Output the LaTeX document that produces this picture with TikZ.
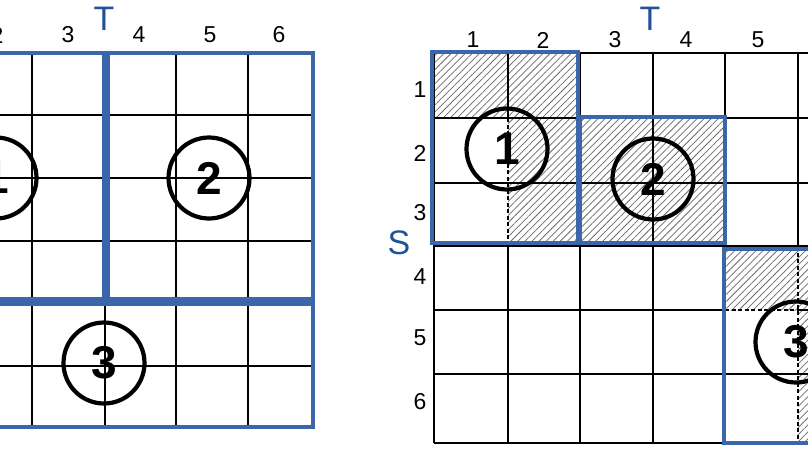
\documentclass[tikz,border=0pt]{standalone}
\usepackage{fontspec}
\setmainfont{Liberation Sans}
\usetikzlibrary{patterns.meta}
\definecolor{blk}{RGB}{60,102,170}
\definecolor{lbl}{RGB}{32,82,152}
\definecolor{hatchc}{RGB}{105,105,105}
\begin{document}
\begin{tikzpicture}[x=1pt,y=-1pt,
  gridline/.style={black,line width=1.9pt},
  dashline/.style={black,line width=1.3pt,dash pattern=on 4pt off 2.5pt},
  blockline/.style={draw=blk,line width=4.5pt},
  hatched/.style={pattern={Lines[angle=45,distance=5pt,line width=0.75pt]},pattern color=hatchc},
  num/.style={font=\fontsize{23}{25}\selectfont},
  axis/.style={text=lbl,font=\fontsize{34}{36}\selectfont},
  circ/.style={circle,draw,line width=4.2pt,minimum size=81pt,inner sep=0pt,font=\fontsize{46}{48}\selectfont\bfseries}]
\useasboundingbox (0,0) rectangle (808,455);
\clip (0,0) rectangle (808,455);

% ---------- left grid ----------
\foreach \x in {-40,32,105,176,248} \draw[gridline] (\x,53) -- (\x,427);
\foreach \y in {115,178,241,366} \draw[gridline] (-120,\y) -- (313,\y);
\draw[blockline] (-120,53) rectangle (104,299.5);
\draw[blockline] (107.5,53) rectangle (313,299.5);
\draw[blockline] (-120,304) rectangle (313,427);

\foreach \x/\t in {-3/2,68/3,139/4,210/5,279/6} \node[num] (lc\t) at (\x,35) {\t};
\node[axis] (lT) at (104,19) {T};
\node[circ] (l1) at (-4,178) {1};
\node[circ] (l2) at (209,178) {2};
\node[circ] (l3) at (104,363) {3};

% ---------- right grid ----------
\path[hatched] (434,53) rectangle (580,118);
\path[hatched] (508,118) rectangle (580,246);
\path[hatched] (580,118) rectangle (725,246);
\path[hatched] (725,246) rectangle (820,310);
\path[hatched] (798,310) rectangle (820,443);

\foreach \x in {434,580,653,725} \draw[gridline] (\x,53) -- (\x,443);
\draw[gridline] (508,53) -- (508,118);
\draw[dashline] (508,118) -- (508,246);
\draw[gridline] (508,246) -- (508,443);
\draw[gridline] (798,53) -- (798,246);
\draw[dashline] (798,246) -- (798,443);
\foreach \y in {53,118,183,246,374} \draw[gridline] (434,\y) -- (820,\y);
\draw[gridline] (434,310) -- (725,310);
\draw[dashline] (725,310) -- (798,310);
\draw[gridline] (798,310) -- (820,310);
\draw[gridline] (434,443) -- (725,443);

\draw[blockline] (432,52) rectangle (578,243);
\draw[blockline] (580,117) rectangle (725,243);
\draw[blockline] (724,249) rectangle (880,443);

\foreach \x/\t in {473/1,543/2,615/3,686/4,758/5} \node[num] (rc\t) at (\x,40) {\t};
\foreach \y/\t in {90/1,153/2,213/3,277/4,338/5,402/6} \node[num] (rr\t) at (420,\y) {\t};
\node[axis] (rT) at (650,19) {T};
\node[axis] (rS) at (399,243) {S};
\node[circ] (r1) at (507,149) {1};
\node[circ] (r2) at (653,179) {2};
\node[circ] (r3) at (796,342) {3};
\end{tikzpicture}
\end{document}
